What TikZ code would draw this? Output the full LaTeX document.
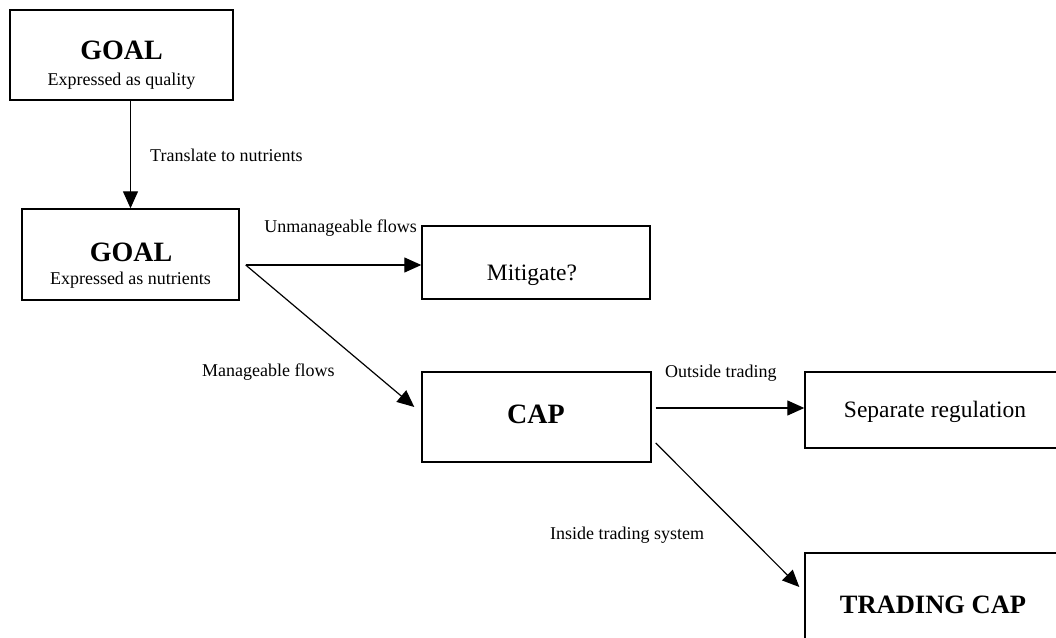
\documentclass[tikz,border=0pt]{standalone}
\usepackage{fontspec}
\setmainfont{Liberation Serif}
\usetikzlibrary{arrows.meta,calc}

\begin{document}
\begin{tikzpicture}[x=1bp,y=-1bp,
  box/.style={draw,line width=1.4bp,inner sep=0pt},
  flow/.style={line width=1.2bp,-{Triangle[length=17bp,width=15bp]}},
  big/.style={anchor=base,inner sep=0pt,font=\fontsize{28bp}{30bp}\selectfont\bfseries},
  mid/.style={anchor=base,inner sep=0pt,font=\fontsize{23.5bp}{26bp}\selectfont},
  small/.style={inner sep=0pt,font=\fontsize{18bp}{20bp}\selectfont}]
\useasboundingbox (0,0) rectangle (1056,638);

% boxes
\node[box,minimum width=223bp,minimum height=90bp] (quality) at (121.5,55) {};
\node[box,minimum width=217bp,minimum height=91bp] (nutrients) at (130.5,254.5) {};
\node[box,minimum width=228bp,minimum height=73bp] (mitigate) at (536,262.5) {};
\node[box,minimum width=229bp,minimum height=90bp] (cap) at (536.5,417) {};
\node[box,minimum width=261bp,minimum height=76bp] (separate) at (935.5,410) {};
\node[box,minimum width=257bp,minimum height=87bp] (trading) at (933.5,596.5) {};

% texts in the boxes
\node[big] (qgoal) at (121.5,60) {GOAL};
\node[small,anchor=base] (qtxt) at (121.5,86) {Expressed as quality};
\node[big] (ngoal) at (131,262) {GOAL};
\node[small,anchor=base] (ntxt) at (130.5,285) {Expressed as nutrients};
\node[mid] (mtxt) at (532,281) {Mitigate?};
\node[big] (ctxt) at (536,423) {CAP};
\node[mid] (stxt) at (935,417) {Separate regulation};
\node[big,font=\fontsize{26.5bp}{28bp}\selectfont\bfseries] (ttxt) at (933,613) {TRADING CAP};

% connectors
\coordinate (split) at ($(nutrients.east)+(6,10.5)$);
\coordinate (capin) at ($(cap.west)+(-7,-10)$);
\coordinate (capout) at ($(cap.east)+(4,-9)$);
\coordinate (capdown) at ($(cap.east)+(4,26)$);
\coordinate (tradein) at ($(trading.west)+(-5,-9.5)$);

\draw[flow] (nutrients.north |- quality.south) -- (nutrients.north);
\draw[flow] (split) -- (split -| mitigate.west);
\draw[flow] (split) -- (capin);
\draw[flow] (capout) -- (capout -| separate.west);
\draw[flow] (capdown) -- (tradein);

% connector labels
\node[small,anchor=west] (ltrans) at (150,155) {Translate to nutrients};
\node[small,anchor=east] (lunman) at (417,228) {Unmanageable flows};
\node[small,anchor=west] (lman) at (202,372) {Manageable flows};
\node[small,anchor=west] (lout) at (665,373) {Outside trading};
\node[small,anchor=west] (lin) at (550,535) {Inside trading system};

\end{tikzpicture}
\end{document}
